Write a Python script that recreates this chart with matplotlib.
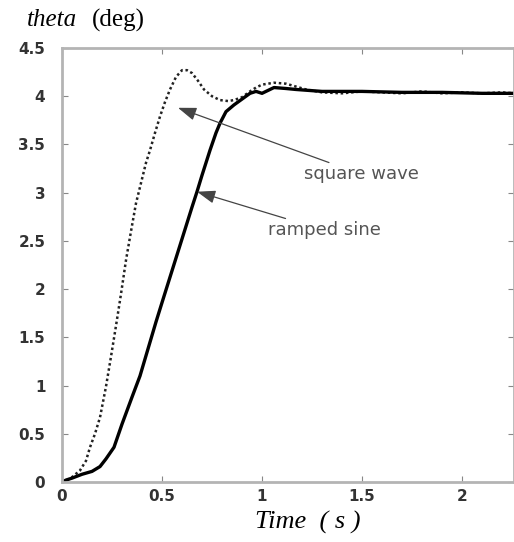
import matplotlib
matplotlib.use("Agg")
import matplotlib.pyplot as plt

# step response of theta for the two input shapes
t_square = [0, 0.025, 0.05, 0.09, 0.12, 0.14, 0.165, 0.19, 0.22, 0.245, 0.27,
            0.295, 0.32, 0.345, 0.37, 0.395, 0.42, 0.44, 0.465, 0.49, 0.515,
            0.54, 0.57, 0.60, 0.625, 0.65, 0.68, 0.71, 0.75, 0.79, 0.83, 0.86,
            0.90, 0.94, 0.97, 1.00, 1.06, 1.12, 1.17, 1.22, 1.30, 1.40, 1.50,
            1.60, 1.70, 1.80, 1.90, 2.00, 2.10, 2.20, 2.26]
v_square = [0, 0.02, 0.05, 0.12, 0.22, 0.36, 0.50, 0.67, 0.99, 1.30, 1.62,
            1.95, 2.30, 2.60, 2.89, 3.10, 3.31, 3.44, 3.62, 3.79, 3.94,
            4.07, 4.20, 4.27, 4.27, 4.24, 4.16, 4.07, 4.00, 3.96, 3.95, 3.96,
            3.99, 4.05, 4.09, 4.12, 4.14, 4.13, 4.10, 4.07, 4.04, 4.03, 4.05,
            4.04, 4.03, 4.05, 4.03, 4.04, 4.03, 4.04, 4.03]

t_ramped = [0, 0.02, 0.05, 0.10, 0.15, 0.19, 0.22, 0.26, 0.30, 0.35, 0.39,
            0.43, 0.47, 0.50, 0.55, 0.60, 0.65, 0.675, 0.70, 0.74, 0.77,
            0.79, 0.82, 0.86, 0.90, 0.94, 0.97, 1.00, 1.03, 1.06, 1.12, 1.17,
            1.30, 1.50, 1.70, 1.90, 2.10, 2.26]
v_ramped = [0, 0.02, 0.04, 0.08, 0.11, 0.16, 0.24, 0.36, 0.60, 0.88, 1.10,
            1.38, 1.66, 1.86, 2.19, 2.52, 2.85, 3.01, 3.18, 3.44, 3.62,
            3.72, 3.84, 3.91, 3.97, 4.03, 4.05, 4.03, 4.06, 4.09, 4.08, 4.07,
            4.05, 4.05, 4.04, 4.04, 4.03, 4.03]

x_ticks = [0, 0.5, 1, 1.5, 2]
y_ticks = [0, 0.5, 1, 1.5, 2, 2.5, 3, 3.5, 4, 4.5]
y_ticklabels = ["0", "0.5", "1", "1.5", "2", "2.5", "3", "3.5", "4", "4.5"]

fig = plt.figure(figsize=(5.14, 5.42), dpi=100)
ax = fig.add_axes([62 / 514, 60 / 542, 452 / 514, 434 / 542])

ax.plot(t_square, v_square, color="#222222", lw=1.8, ls=(0, (1, 1.1)))
ax.plot(t_ramped, v_ramped, color="black", lw=2.4)

ax.set_xlim(0, 2.26)
ax.set_ylim(0, 4.5)
ax.set_xticks(x_ticks)
ax.set_xticklabels([str(x) for x in x_ticks])
ax.set_yticks(y_ticks)
ax.set_yticklabels(y_ticklabels)

for s in ax.spines.values():
    s.set_color("#b4b4b4")
    s.set_linewidth(2)
ax.tick_params(direction="in", length=4, width=0.8, color="#888888",
               top=True, right=True, labelsize=11, labelcolor="#333333")
ax.tick_params(axis="y", pad=12)
ax.tick_params(axis="x", pad=5)
for lab in ax.get_xticklabels() + ax.get_yticklabels():
    lab.set_fontweight("bold")

arrow = dict(arrowstyle="-|>,head_length=0.7,head_width=0.25", color="#444444",
             lw=0.9, mutation_scale=16, shrinkA=0, shrinkB=0)
ax.annotate("square wave", xy=(0.58, 3.88), xytext=(1.21, 3.19),
            fontsize=13, color="#555555", ha="left", va="center",
            arrowprops=arrow)
ax.annotate("ramped sine", xy=(0.675, 3.01), xytext=(1.03, 2.61),
            fontsize=13, color="#555555", ha="left", va="center",
            arrowprops=arrow)

fig.text(27 / 514, 1 - 20 / 542, "theta", fontsize=18, style="italic",
         family="Liberation Serif", ha="left", va="center")
fig.text(92 / 514, 1 - 20 / 542, "(deg)", fontsize=18,
         family="Liberation Serif", ha="left", va="center")
fig.text(308 / 514, 1 - 522 / 542, "Time  ( s )", fontsize=19, style="italic",
         family="Liberation Serif", ha="center", va="center")

fig.savefig("out.png", dpi=100)
